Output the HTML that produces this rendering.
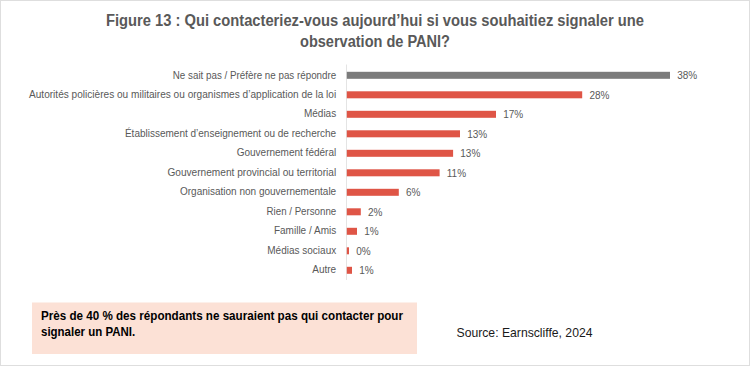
<!DOCTYPE html>
<html><head><meta charset="utf-8">
<style>
html,body{margin:0;padding:0;}
body{width:750px;height:366px;overflow:hidden;background:#fff;position:relative;font-family:"Liberation Sans",sans-serif;}
#frame{position:absolute;left:0;top:0;width:748px;height:364px;border:1px solid #dedede;}
svg{position:absolute;left:0;top:0;}
.t{font-family:"Liberation Sans",sans-serif;font-weight:bold;fill:#595959;}
.lb{font-family:"Liberation Sans",sans-serif;font-size:10.0px;fill:#595959;}
.vl{font-family:"Liberation Sans",sans-serif;font-size:10.0px;fill:#595959;}
.cb{font-family:"Liberation Sans",sans-serif;font-weight:bold;font-size:12.3px;fill:#000;}
.src{font-family:"Liberation Sans",sans-serif;font-size:12.4px;fill:#1a1a1a;}
</style></head><body>
<div id="frame"></div>
<svg width="750" height="366" viewBox="0 0 750 366">
<text x="375" y="25.7" text-anchor="middle" class="t" font-size="16" textLength="538" lengthAdjust="spacingAndGlyphs">Figure 13 : Qui contacteriez-vous aujourd’hui si vous souhaitiez signaler une</text>
<text x="375" y="47.1" text-anchor="middle" class="t" font-size="16" textLength="150" lengthAdjust="spacingAndGlyphs">observation de PANI?</text>
<line x1="346.5" y1="64.5" x2="346.5" y2="280" stroke="#e4e4e4" stroke-width="1"/>
<rect x="346.8" y="71.80" width="323.20" height="7.0" fill="#7b7b7b"/><rect x="346.8" y="91.30" width="235.40" height="7.0" fill="#df5546"/><rect x="346.8" y="110.80" width="149.20" height="7.0" fill="#df5546"/><rect x="346.8" y="130.30" width="113.20" height="7.0" fill="#df5546"/><rect x="346.8" y="149.80" width="106.30" height="7.0" fill="#df5546"/><rect x="346.8" y="169.30" width="92.80" height="7.0" fill="#df5546"/><rect x="346.8" y="188.80" width="52.00" height="7.0" fill="#df5546"/><rect x="346.8" y="208.30" width="14.00" height="7.0" fill="#df5546"/><rect x="346.8" y="227.80" width="10.20" height="7.0" fill="#df5546"/><rect x="346.8" y="247.30" width="2.20" height="7.0" fill="#df5546"/><rect x="346.8" y="266.80" width="5.20" height="7.0" fill="#df5546"/>
<text x="336.2" y="78.70" text-anchor="end" class="lb" textLength="163.4" lengthAdjust="spacingAndGlyphs">Ne sait pas / Préfère ne pas répondre</text><text x="677.20" y="79.20" class="vl">38%</text><text x="336.2" y="97.70" text-anchor="end" class="lb" textLength="307.2" lengthAdjust="spacingAndGlyphs">Autorités policières ou militaires ou organismes d’application de la loi</text><text x="589.40" y="98.70" class="vl">28%</text><text x="336.2" y="117.20" text-anchor="end" class="lb">Médias</text><text x="503.20" y="118.20" class="vl">17%</text><text x="336.2" y="136.70" text-anchor="end" class="lb">Établissement d’enseignement ou de recherche</text><text x="467.20" y="137.70" class="vl">13%</text><text x="336.2" y="156.20" text-anchor="end" class="lb">Gouvernement fédéral</text><text x="460.30" y="157.20" class="vl">13%</text><text x="336.2" y="175.70" text-anchor="end" class="lb" textLength="168.8" lengthAdjust="spacingAndGlyphs">Gouvernement provincial ou territorial</text><text x="446.80" y="176.70" class="vl">11%</text><text x="336.2" y="195.20" text-anchor="end" class="lb">Organisation non gouvernementale</text><text x="406.00" y="196.20" class="vl">6%</text><text x="336.2" y="214.70" text-anchor="end" class="lb" textLength="69.6" lengthAdjust="spacingAndGlyphs">Rien / Personne</text><text x="368.00" y="215.70" class="vl">2%</text><text x="336.2" y="234.20" text-anchor="end" class="lb">Famille / Amis</text><text x="364.20" y="235.20" class="vl">1%</text><text x="336.2" y="253.70" text-anchor="end" class="lb">Médias sociaux</text><text x="356.20" y="254.70" class="vl">0%</text><text x="336.2" y="273.20" text-anchor="end" class="lb">Autre</text><text x="359.20" y="274.20" class="vl">1%</text>
<rect x="32" y="302.5" width="385" height="51.5" fill="#fce1d6"/>
<text x="41" y="319.6" class="cb" textLength="362" lengthAdjust="spacingAndGlyphs">Près de 40 % des répondants ne sauraient pas qui contacter pour</text>
<text x="41" y="336.1" class="cb" textLength="94.2" lengthAdjust="spacingAndGlyphs">signaler un PANI.</text>
<text x="456.5" y="337.1" class="src" textLength="136" lengthAdjust="spacingAndGlyphs">Source: Earnscliffe, 2024</text>
</svg>
</body></html>
